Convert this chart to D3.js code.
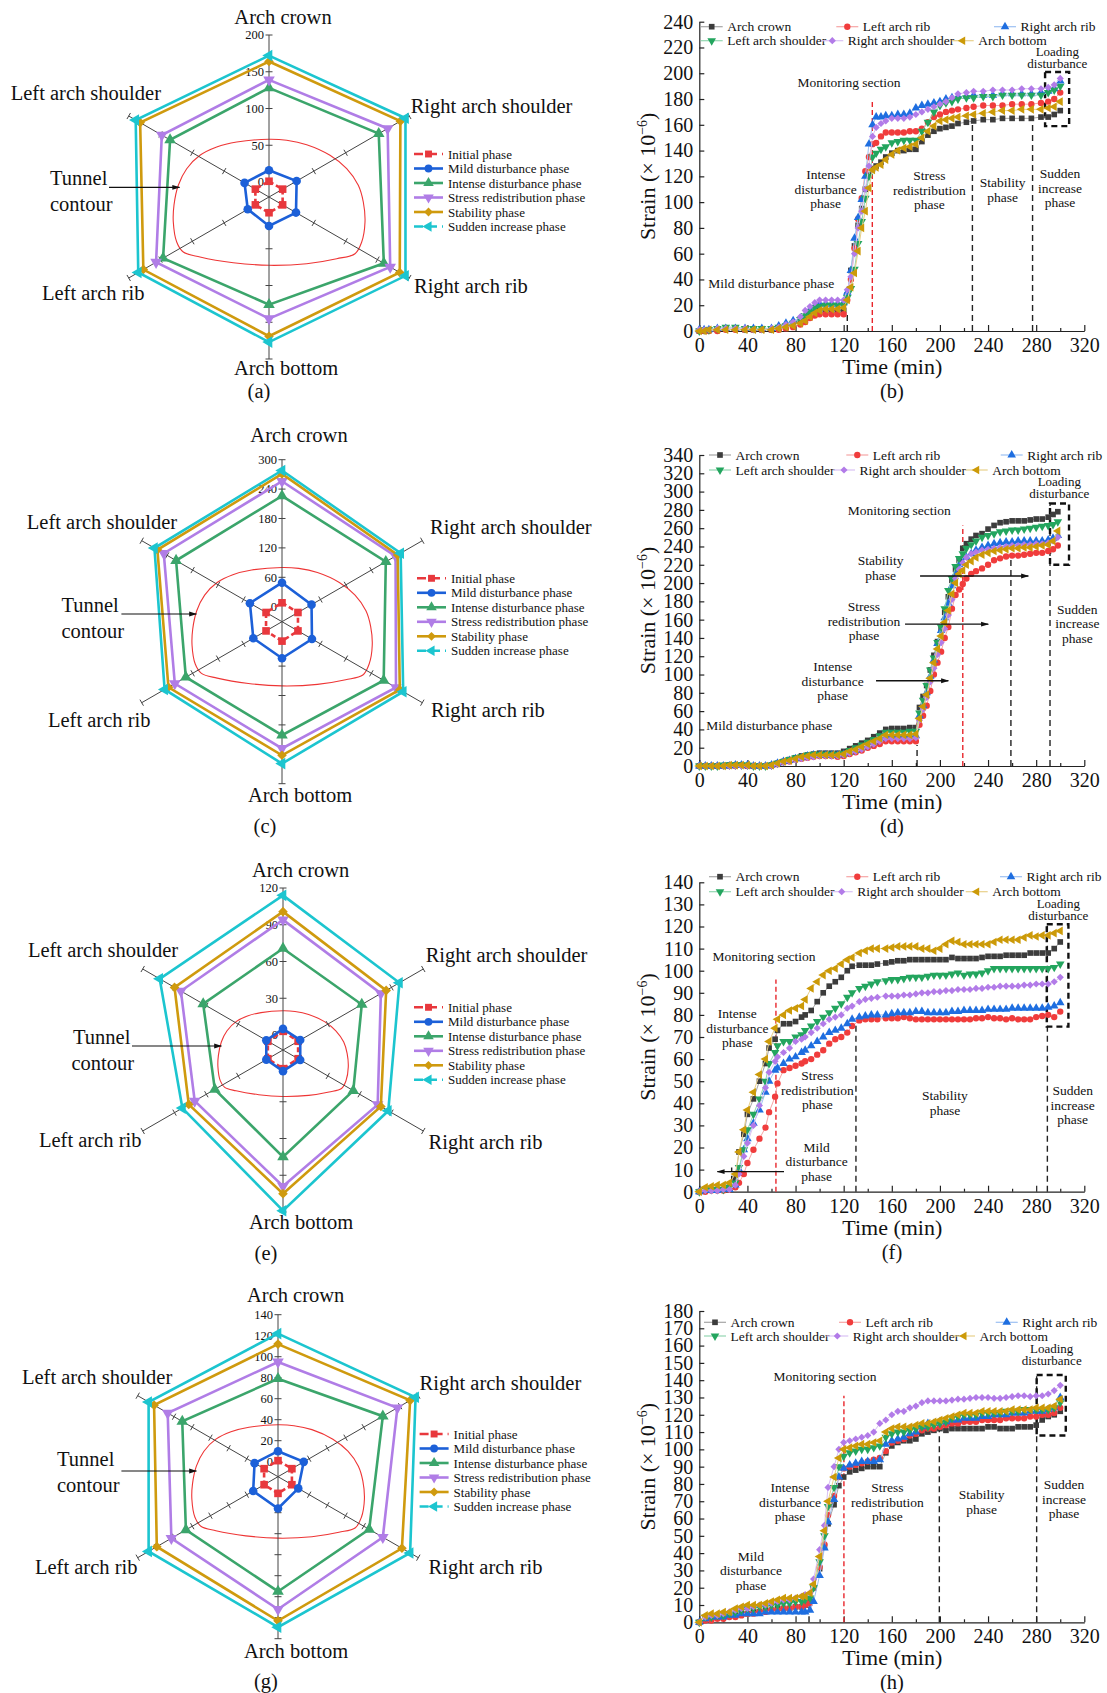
<!DOCTYPE html>
<html>
<head>
<meta charset="utf-8">
<script src="https://cdn.jsdelivr.net/npm/d3@7/dist/d3.min.js"></script>
<style>
  html, body { margin: 0; padding: 0; background: #fff; }
  svg { display: block; }
  text { font-family: "Liberation Serif", "Times New Roman", serif; fill: #111; }
</style>
</head>
<body>
<svg id="fig" width="1107" height="1693" viewBox="0 0 1107 1693"></svg>
<script>
// ---------- radar charts: strain (x10^-6) at six monitoring points, one ring per phase ----------
const radarPoints = ["Arch crown", "Right arch shoulder", "Right arch rib", "Arch bottom", "Left arch rib", "Left arch shoulder"];
const phaseNames = ["Initial phase", "Mild disturbance phase", "Intense disturbance phase",
                    "Stress redistribution phase", "Stability phase", "Sudden increase phase"];

// rows follow phaseNames, columns follow radarPoints
const radarA = [
  [1, 1, 1, 1, 1, 1],
  [16, 23, 22, 19, 13, 18],
  [128, 152, 160, 126, 146, 135],
  [139, 166, 170, 145, 157, 148],
  [164, 186, 185, 169, 177, 182],
  [172, 194, 194, 177, 185, 189]
];
const radarC = [
  [8, 7, 7, 9, 7, 7],
  [49, 39, 40, 44, 37, 45],
  [226, 214, 209, 201, 196, 219],
  [256, 237, 238, 228, 222, 248],
  [271, 242, 247, 242, 237, 263],
  [278, 249, 255, 259, 246, 270]
];
const radarE = [
  [3, 2, 2, 3, 2, 2],
  [5, 4, 4, 5, 3.5, 3.5],
  [70.6, 62, 54, 75, 52, 63],
  [94, 80, 77, 99, 71, 84],
  [100.7, 85, 80, 105, 76.6, 90],
  [114, 97.5, 87, 119, 82.6, 104]
];
const radarG = [
  [1, 1, 1, 1.6, 1, 1],
  [10, 14, 8, 16, 13, 11.5],
  [79, 101, 86, 95, 87, 91],
  [95, 117, 101, 112, 103, 107],
  [112, 131, 122, 123, 119, 122],
  [122, 137, 131, 129, 128, 128]
];
const radarTicksA = [0, 50, 100, 150, 200];
const radarTicksC = [0, 60, 120, 180, 240, 300];
const radarTicksE = [0, 30, 60, 90, 120];
const radarTicksG = [0, 20, 40, 60, 80, 100, 120, 140];

// outline of the tunnel cross-section (px offsets from the radar centre at unit scale)
const tunnelOutline = [
  [-95.7, 25], [-95, 8], [-90.7, -11.7], [-82.3, -28.3], [-69, -41.7], [-52.3, -50], [-32.3, -55],
  [0, -57.7], [17.7, -56.7], [37.7, -52.3], [61, -41.7], [77.7, -28.3], [89.3, -11.7], [94.3, 5],
  [96, 25], [92.7, 45], [86, 56.7], [67.7, 61.7], [37.7, 66.7], [0, 68.3], [-35.7, 65.7],
  [-69, 60], [-85.7, 55], [-92.3, 45]
];

// ---------- strain time histories ----------
const seriesNames = ["Arch crown", "Left arch rib", "Right arch rib", "Left arch shoulder", "Right arch shoulder", "Arch bottom"];
const xTicks = [0, 40, 80, 120, 160, 200, 240, 280, 320];
const xMinorTicks = [20, 60, 100, 140, 180, 220, 260, 300];

// (b)
const timeB = [0,4,8,15,22,30,38,45,52,60,66,72,78,84,88,92,96,100,105,110,115,120,123,126,129,132,135,138,141,144,147,151,155,160,165,170,175,180,185,190,195,200,205,210,215,222,228,236,244,252,260,268,276,284,290,295,300];
const crownB = [0,0,1,1,2,2,1,1,1,1,2,3,5,8,10,13,15,16,16,16,16,16,28,47,66,82,95,110,121,126,128,131,135,138,140,140,141,141,147,152,155,157,158,159,161,162,163,164,164,165,165,165,165,166,166,168,171];
const leftRibB = [0,0,0,0,1,1,1,1,1,1,1,2,3,5,7,10,12,13,13,13,13,13,24,40,64,87,103,124,135,145,146,151,154,154,154,154,155,155,157,162,166,168,170,171,172,173,174,175,175,175,176,176,176,177,178,180,185];
const rightRibB = [1,1,1,2,2,2,2,2,2,2,4,6,8,10,13,17,20,21,21,21,21,22,30,47,72,88,102,120,145,160,166,166,167,167,168,168,169,173,175,176,177,178,180,181,182,182,183,183,183,184,184,184,184,185,186,188,194];
const leftShoulderB = [0,1,1,2,3,3,2,2,2,2,3,4,6,9,12,15,18,19,20,20,20,20,26,33,48,68,85,103,120,135,138,141,143,146,147,148,148,148,155,162,170,175,177,178,180,181,181,182,182,183,183,183,183,183,185,187,190];
const rightShoulderB = [1,1,1,2,2,2,2,1,1,2,3,5,7,11,16,19,22,24,24,24,24,24,32,42,60,80,93,110,128,151,158,161,163,165,165,165,166,168,170,172,174,176,178,181,184,185,186,186,187,187,187,188,188,188,189,191,196];
const bottomB = [0,0,1,1,1,1,1,1,1,1,2,3,4,6,8,11,14,16,17,17,17,18,24,34,45,62,80,93,111,125,127,129,133,137,140,142,143,145,150,155,159,163,164,165,166,167,168,169,170,171,171,172,172,172,173,174,178];
const yTicksB = [0, 20, 40, 60, 80, 100, 120, 140, 160, 180, 200, 220, 240];

// (d)
const timeD = [0,5,10,15,20,25,30,35,40,45,50,55,60,65,70,75,80,85,90,95,100,105,110,115,120,125,130,135,140,145,150,155,160,165,170,175,180,183,186,189,192,195,198,201,204,207,210,213,216,219,222,226,230,235,240,245,250,255,260,265,270,275,280,285,290,294,298];
const crownD = [0,0,0,0,0,1,1,1,0,0,0,0,1,3,5,7,9,11,12,13,14,14,14,14,16,19,22,25,28,32,36,40,41,41,41,42,42,64,76,88,105,121,136,150,168,185,203,215,225,238,243,248,252,254,259,263,266,267,268,268,268,269,270,270,272,275,278];
const leftRibD = [0,0,0,0,0,0,0,1,0,0,0,0,0,2,4,5,7,8,9,10,11,11,11,10,11,13,15,17,20,22,24,27,27,27,27,27,27,45,55,66,82,100,113,125,140,152,172,187,193,199,205,210,213,216,220,225,227,229,230,230,231,232,233,233,235,237,241];
const rightRibD = [0,0,0,0,0,0,1,1,1,0,0,0,1,3,5,6,8,9,11,12,12,12,12,12,13,15,17,20,23,26,30,33,33,33,33,33,33,55,66,80,98,116,134,148,162,178,197,210,220,222,228,232,236,239,241,243,244,245,245,246,246,246,246,246,247,249,252];
const leftShoulderD = [0,0,0,0,1,1,1,1,1,0,0,0,1,3,5,7,9,10,12,13,13,13,13,13,14,17,20,23,26,29,33,37,37,37,37,38,38,58,72,88,105,118,135,152,172,192,205,218,227,232,238,242,246,250,252,254,256,257,258,258,259,260,261,262,263,264,267];
const rightShoulderD = [0,0,0,0,0,0,0,0,0,0,0,0,0,2,4,5,7,8,9,10,11,11,11,11,12,14,16,18,21,24,27,30,30,30,30,30,31,50,62,75,92,107,122,135,150,165,182,205,215,222,228,232,234,236,237,238,239,240,241,241,242,242,243,243,244,246,250];
const bottomD = [0,0,0,0,0,1,1,1,1,0,0,0,1,3,5,6,8,10,11,12,12,12,12,12,13,16,18,21,24,27,30,34,34,34,34,34,35,52,65,78,96,113,128,142,157,170,188,200,210,214,220,224,228,231,233,235,236,237,238,238,239,239,240,241,242,246,257];
const yTicksD = [0, 20, 40, 60, 80, 100, 120, 140, 160, 180, 200, 220, 240, 260, 280, 300, 320, 340];

// (f)
const timeF = [0,5,10,15,20,25,30,33,37,40,45,50,55,58,63,65,70,75,80,85,88,93,98,103,108,113,118,123,127,133,138,143,148,155,160,165,170,175,180,185,190,195,200,205,210,215,220,225,230,235,240,245,250,255,260,265,270,275,280,285,290,295,300];
const crownF = [0,1,1,1,1,2,6,18,26,35,42,50,58,65,69,73,76,76,77,79,80,82,86,90,93,95,97,100,102,102.5,102.5,102.5,103,103.5,104,104.5,104.5,105,105,105,105,105,105,105,106,105.5,105.5,105.5,105.5,106,106.5,106.5,106.5,107,107,107,107,108,108,108,108,110,113];
const leftRibF = [0,0,0.5,0.5,0.5,1,2,4,8,13,19,24,29,36,43,49,55,56,57,58,59,60,62,64,67,69,70,72,75,77.5,78,78,78,78.5,78.5,78.5,79,78.5,78,78,78,78,78,78,78,78,78,78,78.5,78.5,79,78.5,78.5,78,78.5,78,78,78,79,79.5,80,79,81.5];
const rightRibF = [0,0.5,0.5,0.5,1,1,3,10,19,24,31,37,45,50,55,56,58,60,61,63,64,66,68,70,72,73,74,76,78,79,79.5,80,80,80,80.5,81,81,81,81.5,81.5,81,81,81,81,81.5,81.5,82,82,82,82,82.5,82.5,82.5,82.5,83,83,83,83,83,83,83.5,84,85.5];
const leftShoulderF = [0,1,1,1,1,2,4,11,19,28,35,42,50,58,63,66,68,68,70,71,73,75,77,79,81,83,85,88,90,92,93,94,95,95.5,96,96,96.5,97,97,97,97.5,98,98,98,98.5,99,98,98.5,98.5,99,100,101,101,101,101,101,101,101,101,101,101,101.5,103];
const rightShoulderF = [0,0.5,0.5,0.5,1,1,3,8,16,22,30,39,47,54,59,61,63,65,68,69,70,72,74,76,78,79,80,83,84,86,87,87.5,88,88.5,88.5,88.5,89,89,89.5,90,90,90.5,90.5,91,91,91.5,91.5,91.5,92,92,92.5,92.5,93,93,93,93,93.5,93.5,94,94,94,95,97];
const bottomF = [0,2,2.5,3,3,4,8,18,28,37,45,53,60,68,74,78,80,82,83,84,87,92,95,98,100,101,103,105,106,108,109,110,110,110,110.5,111,111,111,111,110,110,109,110,112,113.5,113,112,112,112,112,112,113,114,114,114,114,115,116,115.5,116,116,117,118];
const yTicksF = [0, 10, 20, 30, 40, 50, 60, 70, 80, 90, 100, 110, 120, 130, 140];

// (h)
const timeH = [0,5,10,15,20,25,30,35,40,45,50,55,60,65,70,75,80,85,88,92,95,100,104,107,112,116,120,125,130,135,140,145,150,155,160,165,170,175,180,185,190,195,200,205,210,215,220,225,230,235,240,245,250,255,260,265,270,275,280,285,290,295,300];
const crownH = [0,2,3,3,3,4,4,5,5,6,6,7,7,8,8,8,9,9,10,12,20,31,44,57,68,79,84,87,88,89,90,90,90,98,102,104,105,105,106,109,110,111,112,111,112,112,112,112,112,112,113,113,112,112,112,113,113,113,114,117,119,120,122];
const leftRibH = [0,1,1,2,2,3,3,4,5,5,6,6,7,7,8,8,9,9,10,11,20,32,45,62,73,84,89,90,91,92,93,94,95,99,104,105,106,108,109,111,112,112,113,114,115,115,116,116,116,117,117,117,117,118,118,118,118,119,119,120,120,121,124];
const rightRibH = [0,2,3,3,3,4,4,5,5,5,5,6,6,6,6,6,6,6,6,7,12,27,43,58,71,84,89,91,92,93,93,93,94,103,105,106,107,109,110,113,115,115,116,116,117,117,118,118,118,119,119,120,120,120,121,121,121,122,122,122,123,124,130];
const leftShoulderH = [0,3,3,4,4,5,6,7,8,8,9,9,10,10,11,11,12,12,13,14,20,35,50,67,78,90,96,98,99,100,100,101,102,107,109,110,110,111,112,113,113,114,115,116,118,119,120,120,120,121,121,121,121,122,122,122,123,123,123,123,123,124,127];
const rightShoulderH = [0,3,4,4,5,6,7,8,8,9,10,10,11,12,13,13,14,15,16,17,25,42,56,78,90,100,104,105,106,107,108,110,115,117,120,122,122,124,125,127,128,128,128,128,128.5,129,129,129.5,130,130,130,129.5,129.5,130,130.5,131,131,130.5,131,131,132,134,137];
const bottomH = [0,4,5,5,6,6,8,9,10,10,10,11,12,13,14,14,14,15,15,17,22,38,53,70,84,95,100,101,102,103,103,104,105,110,112,113,113,113,114,115,115,116,117,118,119,120,121,121,121,122,122,122,122,122,123,123,123,123,124,124,124,125,129];
const yTicksH = [0, 10, 20, 30, 40, 50, 60, 70, 80, 90, 100, 110, 120, 130, 140, 150, 160, 170, 180];

// ---------- styling ----------
const svg = d3.select("#fig");
const SERIF = "'Liberation Serif', 'Times New Roman', serif";
const phaseColors = ["#e8383d", "#1c60d8", "#3ba56b", "#b07de6", "#cf9a0e", "#1cc5cf"];
const phaseShapes = ["square", "circle", "tri", "triDown", "diamond", "triLeft"];
const seriesColors = ["#3c3c3c", "#f03c3c", "#1e6ee0", "#23a55e", "#b27be8", "#cc9a08"];
const seriesLineColors = ["#a5a5a5", "#f6a5a5", "#9cc0f2", "#92d6b0", "#d9c1f4", "#e8d08a"];
const seriesShapes = ["square", "circle", "tri", "triDown", "diamond", "triLeft"];

const defs = svg.append("defs");
defs.append("marker").attr("id", "arrowHead").attr("viewBox", "0 0 10 10")
  .attr("refX", 9).attr("refY", 5).attr("markerWidth", 8).attr("markerHeight", 8)
  .attr("orient", "auto").attr("markerUnits", "userSpaceOnUse")
  .append("path").attr("d", "M0,2 L10,5 L0,8 Z").attr("fill", "#111");

function drawSymbol(g, shape, x, y, size, color) {
  const types = { square: d3.symbolSquare, circle: d3.symbolCircle, tri: d3.symbolTriangle,
                  triDown: d3.symbolTriangle, diamond: d3.symbolSquare, triLeft: d3.symbolTriangle };
  const rot = { triDown: 180, diamond: 45, triLeft: -90 }[shape] || 0;
  const s = shape === "diamond" ? size * 0.8 : size;
  g.append("path").attr("d", d3.symbol(types[shape], s)())
    .attr("transform", `translate(${x},${y}) rotate(${rot})`)
    .attr("fill", color);
}

function multiText(g, x, y, lines, size, gap) {
  lines.forEach((s, i) => {
    g.append("text").attr("x", x).attr("y", y + i * gap).attr("text-anchor", "middle")
      .attr("font-size", size).text(s);
  });
}

// ---------- radar panel ----------
const R0 = 15, RMAX = 162;
function drawRadar(p) {
  const g = svg.append("g");
  const r = d3.scaleLinear().domain([0, p.max]).range([R0, RMAX]);
  const ang = i => i * Math.PI / 3;
  const pos = (i, v) => [p.cx + r(v) * Math.sin(ang(i)), p.cy - r(v) * Math.cos(ang(i))];

  // tunnel contour
  const outline = tunnelOutline.map(([dx, dy]) => [p.cx + dx * p.tunnel, p.cy + dy * p.tunnel]);
  g.append("path").attr("d", d3.line().curve(d3.curveCatmullRomClosed.alpha(0.5))(outline))
    .attr("fill", "none").attr("stroke", "#ee3535").attr("stroke-width", 1.1);

  // spokes with ticks
  radarPoints.forEach((name, i) => {
    const [x2, y2] = pos(i, p.max);
    g.append("line").attr("x1", p.cx).attr("y1", p.cy).attr("x2", x2).attr("y2", y2)
      .attr("stroke", "#444").attr("stroke-width", 1);
    const nx = Math.cos(ang(i)), ny = Math.sin(ang(i));
    p.ticks.slice(1).forEach(t => {
      const [tx, ty] = pos(i, t);
      g.append("line").attr("x1", tx - nx * 3.5).attr("y1", ty - ny * 3.5)
        .attr("x2", tx + nx * 3.5).attr("y2", ty + ny * 3.5)
        .attr("stroke", "#444").attr("stroke-width", 1);
    });
  });

  // scale labels on the crown spoke
  p.ticks.forEach(t => {
    const [, ty] = pos(0, t);
    g.append("text").attr("x", p.cx - 5).attr("y", ty).attr("dy", "0.35em")
      .attr("text-anchor", "end").attr("font-size", 12.5).text(t);
  });

  // phase rings
  p.values.forEach((vals, k) => {
    const pts = vals.map((v, i) => pos(i, v));
    g.append("path").attr("d", d3.line()(pts) + "Z").attr("fill", "none")
      .attr("stroke", phaseColors[k]).attr("stroke-width", 2.6)
      .attr("stroke-linejoin", "miter")
      .attr("stroke-dasharray", k === 0 ? "5,3" : null);
    pts.forEach(([x, y]) => drawSymbol(g, phaseShapes[k], x, y, 58, phaseColors[k]));
  });

  // point names
  const L = p.labels;
  const put = (xy, s, anchor) => g.append("text").attr("x", xy[0]).attr("y", xy[1])
    .attr("text-anchor", anchor).attr("font-size", 20.5).text(s);
  put(L.crown, radarPoints[0], "middle");
  put(L.rShoulder, radarPoints[1], "start");
  put(L.rRib, radarPoints[2], "start");
  put(L.bottom, radarPoints[3], "middle");
  put(L.lRib, radarPoints[4], "start");
  put(L.lShoulder, radarPoints[5], "start");
  put(L.tunnel, "Tunnel", "start");
  put(L.contour, "contour", "start");
  g.append("line").attr("x1", L.arrow[0]).attr("y1", L.arrow[1]).attr("x2", L.arrow[2]).attr("y2", L.arrow[1])
    .attr("stroke", "#111").attr("stroke-width", 1.2).attr("marker-end", "url(#arrowHead)");
  g.append("text").attr("x", L.caption[0]).attr("y", L.caption[1]).attr("text-anchor", "middle")
    .attr("font-size", 20.5).text(p.caption);

  // legend
  phaseNames.forEach((name, k) => {
    const y = p.legend[1] + k * 14.5, x = p.legend[0];
    g.append("line").attr("x1", x).attr("y1", y).attr("x2", x + 29).attr("y2", y)
      .attr("stroke", phaseColors[k]).attr("stroke-width", 2.6)
      .attr("stroke-dasharray", (k === 0 || k === 5) ? "9,5" : null);
    drawSymbol(g, phaseShapes[k], x + 14.5, y, 48, phaseColors[k]);
    g.append("text").attr("x", x + 34).attr("y", y).attr("dy", "0.35em")
      .attr("font-size", 13).text(name);
  });
}

// ---------- time-history panel ----------
const X0 = 699.3, X1 = 1084.3;
function drawHistory(p) {
  const g = svg.append("g");
  const x = d3.scaleLinear().domain([0, 320]).range([X0, X1]);
  const y = d3.scaleLinear().domain([0, p.max]).range([p.y0, p.y1]);

  const styleAxis = a => {
    a.attr("font-family", SERIF).attr("font-size", 20);
    a.selectAll("path, line").attr("stroke", "#222").attr("stroke-width", 1.2);
  };
  g.append("g").attr("transform", `translate(0,${p.y0})`)
    .call(d3.axisBottom(x).tickValues(xTicks).tickSizeInner(-6).tickSizeOuter(0).tickPadding(7))
    .call(styleAxis);
  g.append("g").attr("transform", `translate(0,${p.y0})`)
    .call(d3.axisBottom(x).tickValues(xMinorTicks).tickSizeInner(-3).tickSizeOuter(0).tickFormat(""))
    .call(styleAxis).call(a => a.select(".domain").remove());
  g.append("g").attr("transform", `translate(${X0},0)`)
    .call(d3.axisLeft(y).tickValues(p.yTicks).tickSizeInner(-5).tickSizeOuter(0).tickPadding(6))
    .call(styleAxis);

  // axis titles and caption
  g.append("text").attr("x", 892.3).attr("y", p.y0 + 43).attr("text-anchor", "middle")
    .attr("font-size", 22).text("Time (min)");
  const st = g.append("text").attr("transform", `translate(655,${(p.y0 + p.y1) / 2}) rotate(-90)`)
    .attr("text-anchor", "middle").attr("font-size", 22);
  st.append("tspan").text("Strain (× 10");
  st.append("tspan").attr("dy", -8).attr("font-size", 14).text("−6");
  st.append("tspan").attr("dy", 8).text(")");
  g.append("text").attr("x", 892).attr("y", p.y0 + 67).attr("text-anchor", "middle")
    .attr("font-size", 20.5).text(p.caption);

  // phase boundaries
  p.redLine.forEach(d => {
    g.append("line").attr("x1", x(d.t)).attr("x2", x(d.t)).attr("y1", y(0)).attr("y2", y(d.top))
      .attr("stroke", "#e8262c").attr("stroke-width", 1.4).attr("stroke-dasharray", "5,3");
  });
  p.blackLines.forEach(d => {
    g.append("line").attr("x1", x(d.t)).attr("x2", x(d.t)).attr("y1", y(0)).attr("y2", y(d.top))
      .attr("stroke", "#222").attr("stroke-width", 1.4).attr("stroke-dasharray", "6,4");
  });
  const b = p.box;
  g.append("rect").attr("x", x(b.t0)).attr("y", y(b.v1)).attr("width", x(b.t1) - x(b.t0))
    .attr("height", y(b.v0) - y(b.v1)).attr("fill", "none").attr("stroke", "#111")
    .attr("stroke-width", 2.4).attr("stroke-dasharray", "6,4");

  // series
  p.series.forEach((vals, k) => {
    const pts = p.time.map((t, i) => [x(t), y(vals[i])]);
    g.append("path").attr("d", d3.line()(pts)).attr("fill", "none")
      .attr("stroke", seriesLineColors[k]).attr("stroke-width", 1);
    pts.forEach(([px, py]) => drawSymbol(g, seriesShapes[k], px, py, 32, seriesColors[k]));
  });

  // arrows
  (p.arrows || []).forEach(a => {
    g.append("line").attr("x1", x(a.t0)).attr("x2", x(a.t1)).attr("y1", y(a.v)).attr("y2", y(a.v))
      .attr("stroke", "#111").attr("stroke-width", 1.3).attr("marker-end", "url(#arrowHead)");
  });

  // phase notes
  p.notes.forEach(n => multiText(g, n.x, n.y, n.lines, n.size || 13.5, n.gap || 14.6));

  // legend
  seriesNames.forEach((name, k) => {
    const row = Math.floor(k / 3), col = k % 3;
    const mx = p.legend.marks[row][col], my = p.legend.rows[row];
    g.append("line").attr("x1", mx - 11).attr("x2", mx + 11).attr("y1", my).attr("y2", my)
      .attr("stroke", seriesLineColors[k]).attr("stroke-width", 1.2);
    drawSymbol(g, seriesShapes[k], mx, my, 32, seriesColors[k]);
    g.append("text").attr("x", mx + 15.5).attr("y", my).attr("dy", "0.35em")
      .attr("font-size", 13.5).text(name);
  });
}

// ---------- panels ----------
drawRadar({
  cx: 269, cy: 197, max: 200, ticks: radarTicksA, values: radarA, tunnel: 1.0, caption: "(a)",
  labels: { crown: [283, 24], rShoulder: [410.7, 113], rRib: [414, 293], bottom: [286, 375],
            lRib: [42, 300], lShoulder: [10.7, 100], tunnel: [50, 185], contour: [50, 211],
            arrow: [109, 187.3, 179.5], caption: [259, 398] },
  legend: [414, 154]
});
drawRadar({
  cx: 282, cy: 621.7, max: 300, ticks: radarTicksC, values: radarC, tunnel: 0.94, caption: "(c)",
  labels: { crown: [299, 442], rShoulder: [430, 534], rRib: [431, 717], bottom: [300, 802],
            lRib: [48, 727], lShoulder: [26.8, 529], tunnel: [61.4, 612], contour: [61.4, 638],
            arrow: [121.4, 614, 196.4], caption: [265, 833] },
  legend: [417, 578.3]
});
drawRadar({
  cx: 283, cy: 1050, max: 120, ticks: radarTicksE, values: radarE, tunnel: 0.68, caption: "(e)",
  labels: { crown: [300.6, 877], rShoulder: [425.7, 962], rRib: [428.6, 1149], bottom: [301, 1229],
            lRib: [39, 1147], lShoulder: [27.9, 957], tunnel: [73, 1044], contour: [71.4, 1070],
            arrow: [132, 1046, 221.4], caption: [266, 1260] },
  legend: [414, 1007.3]
});
drawRadar({
  cx: 278, cy: 1476.7, max: 140, ticks: radarTicksG, values: radarG, tunnel: 0.9, caption: "(g)",
  labels: { crown: [295.7, 1302], rShoulder: [419.6, 1390], rRib: [428.6, 1574], bottom: [296, 1658],
            lRib: [35, 1574], lShoulder: [22, 1384], tunnel: [57, 1466], contour: [57, 1492],
            arrow: [121.4, 1471, 196.4], caption: [266, 1688] },
  legend: [419.6, 1434]
});

const loadNote = { lines: ["Loading", "disturbance"], gap: 12, size: 13 };

drawHistory({
  caption: "(b)", max: 240, y0: 331, y1: 21.7, yTicks: yTicksB, time: timeB,
  series: [crownB, leftRibB, rightRibB, leftShoulderB, rightShoulderB, bottomB],
  redLine: [{ t: 143.8, top: 180 }],
  blackLines: [{ t: 123, top: 14 }, { t: 227, top: 160 }, { t: 277, top: 165 }],
  box: { t0: 287.4, t1: 307.4, v0: 159, v1: 201 },
  notes: [
    { x: 849, y: 87, lines: ["Monitoring section"] },
    { x: 825.7, y: 179, lines: ["Intense", "disturbance", "phase"] },
    { x: 929.3, y: 180, lines: ["Stress", "redistribution", "phase"] },
    { x: 1002.7, y: 187, lines: ["Stability", "phase"] },
    { x: 1060, y: 178, lines: ["Sudden", "increase", "phase"] },
    { x: 771.3, y: 287.5, lines: ["Mild disturbance phase"] },
    Object.assign({ x: 1057.3, y: 56 }, loadNote)
  ],
  legend: { rows: [26.7, 40.7], marks: [[711.7, 847.3, 1005], [711.7, 832.3, 962.7]] }
});

drawHistory({
  caption: "(d)", max: 340, y0: 766, y1: 455, yTicks: yTicksD, time: timeD,
  series: [crownD, leftRibD, rightRibD, leftShoulderD, rightShoulderD, bottomD],
  redLine: [{ t: 219, top: 263 }],
  blackLines: [{ t: 181, top: 23 }, { t: 259, top: 229 }, { t: 291.5, top: 287 }],
  box: { t0: 291.5, t1: 307.3, v0: 220, v1: 287 },
  arrows: [{ t0: 183.5, t1: 273.5, v: 207.7 }, { t0: 171, t1: 240.2, v: 155 }, { t0: 146.9, t1: 207, v: 93.2 }],
  notes: [
    { x: 899.3, y: 515, lines: ["Monitoring section"] },
    { x: 880.7, y: 565, lines: ["Stability", "phase"] },
    { x: 864, y: 611, lines: ["Stress", "redistribution", "phase"] },
    { x: 832.7, y: 671, lines: ["Intense", "disturbance", "phase"] },
    { x: 1077.3, y: 613.5, lines: ["Sudden", "increase", "phase"] },
    { x: 769.3, y: 730, lines: ["Mild disturbance phase"] },
    Object.assign({ x: 1059.3, y: 486 }, loadNote)
  ],
  legend: { rows: [455, 470], marks: [[720, 857.3, 1011.7], [720, 844, 976.7]] }
});

drawHistory({
  caption: "(f)", max: 140, y0: 1191.7, y1: 882.3, yTicks: yTicksF, time: timeF,
  series: [crownF, leftRibF, rightRibF, leftShoulderF, rightShoulderF, bottomF],
  redLine: [{ t: 63.7, top: 96 }],
  blackLines: [{ t: 26.9, top: 11 }, { t: 130.2, top: 77 }, { t: 289.3, top: 121 }],
  box: { t0: 288.8, t1: 306.8, v0: 74.7, v1: 121 },
  arrows: [{ t0: 70.4, t1: 15, v: 9.05 }],
  notes: [
    { x: 764, y: 961, lines: ["Monitoring section"] },
    { x: 737.3, y: 1018, lines: ["Intense", "disturbance", "phase"] },
    { x: 817.3, y: 1080, lines: ["Stress", "redistribution", "phase"] },
    { x: 945, y: 1100, lines: ["Stability", "phase"] },
    { x: 1072.7, y: 1095, lines: ["Sudden", "increase", "phase"] },
    { x: 816.7, y: 1151.5, lines: ["Mild", "disturbance", "phase"] },
    Object.assign({ x: 1058.3, y: 907.5 }, loadNote)
  ],
  legend: { rows: [876.7, 891.7], marks: [[720, 857.3, 1011], [720, 841.7, 976.7]] }
});

drawHistory({
  caption: "(h)", max: 180, y0: 1622.3, y1: 1311, yTicks: yTicksH, time: timeH,
  series: [crownH, leftRibH, rightRibH, leftShoulderH, rightShoulderH, bottomH],
  redLine: [{ t: 120.2, top: 131 }],
  blackLines: [{ t: 91.2, top: 11 }, { t: 199.5, top: 114 }, { t: 280.4, top: 143 }],
  box: { t0: 280.4, t1: 304.6, v0: 108, v1: 143 },
  notes: [
    { x: 825, y: 1381, lines: ["Monitoring section"] },
    { x: 790, y: 1492, lines: ["Intense", "disturbance", "phase"] },
    { x: 887.3, y: 1492, lines: ["Stress", "redistribution", "phase"] },
    { x: 981.7, y: 1499, lines: ["Stability", "phase"] },
    { x: 1064, y: 1489, lines: ["Sudden", "increase", "phase"] },
    { x: 751, y: 1560.5, lines: ["Mild", "disturbance", "phase"] },
    Object.assign({ x: 1051.7, y: 1352.5 }, loadNote)
  ],
  legend: { rows: [1322.3, 1336], marks: [[715, 850, 1006.7], [715, 837.3, 964]] }
});
</script>
</body>
</html>
